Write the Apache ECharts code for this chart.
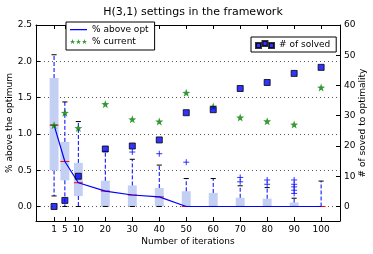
<!DOCTYPE html>
<html>
<head>
<meta charset="utf-8">
<script src="https://cdn.jsdelivr.net/npm/echarts@6/dist/echarts.min.js"></script>
<style>html,body{margin:0;padding:0;background:#fff}#c{width:373px;height:254px}</style>
</head>
<body>
<div id="c"></div>
<script>
// ---- data ----
var iterations = [1, 5, 10, 20, 30, 40, 50, 60, 70, 80, 90, 100];
var whiskerLow = [0.145, 0, 0, 0, 0, 0, 0, 0, 0, 0, 0, 0];
var q1 = [0.495, 0.36, 0.145, 0, 0, 0, 0, 0, 0, 0, 0, 0];
var median = [1.12, 0.62, 0.327, 0.212, 0.158, 0.132, 0, 0, 0, 0, 0, 0];
var q3 = [1.77, 0.89, 0.6, 0.355, 0.29, 0.255, 0.21, 0.187, 0.12, 0.108, 0.055, 0];
var whiskerHigh = [2.09, 1.44, 1.17, 0.76, 0.65, 0.57, 0.385, 0.385, 0.285, 0.26, 0.114, 0.35];
var outlierX = [30, 40, 50, 70, 70, 80, 80, 90, 90, 90, 90, 90];
var outlierY = [0.75, 0.727, 0.61, 0.40, 0.34, 0.365, 0.306, 0.365, 0.306, 0.27, 0.224, 0.18];
var aboveOpt = [1.12, 0.62, 0.327, 0.212, 0.158, 0.132, 0, 0, 0, 0, 0, 0];
var currentPct = [1.12, 1.29, 1.08, 1.41, 1.2, 1.17, 1.565, 1.376, 1.225, 1.174, 1.128, 1.638];
var solved = [0, 2, 10, 19, 20, 22, 31, 32, 39, 41, 44, 46];
var xTicks = [1, 5, 10, 20, 30, 40, 50, 60, 70, 80, 90, 100];
var leftTicks = [0, 0.5, 1.0, 1.5, 2.0, 2.5];
var rightTicks = [0, 10, 20, 30, 40, 50, 60];

var FONT = 'DejaVu Sans';
var STAR = 'M5,0L6.176,3.382L9.755,3.455L6.902,5.618L7.939,9.045L5,7L2.061,9.045L3.098,5.618L0.245,3.455L3.824,3.382Z';
function shiftStar(dx, dy) {
  return STAR.replace(/(-?\d+\.?\d*),(-?\d+\.?\d*)/g, function (m, a, b) {
    return (parseFloat(a) + dx).toFixed(3) + ',' + (parseFloat(b) + dy).toFixed(3);
  });
}
var threeStars = 'path://' + shiftStar(0, 0) + ' ' + shiftStar(11, 0) + ' ' + shiftStar(22, 0);
var threeSquares = 'path://M0,2h5v5h-5z M6.5,0h5v5h-5z M13,2h5v5h-5z';
var lineIcon = 'path://M0,0h17v0.01h-17z M0,3.4h17v1.3h-17z M0,7.99h17v0.01h-17z';

var boxData = iterations.map(function (x, i) {
  return [x, whiskerLow[i], q1[i], median[i], q3[i], whiskerHigh[i]];
});

var chart = echarts.init(document.getElementById('c'), null, {renderer: 'canvas'});
var option = {
  animation: false,
  backgroundColor: '#fff',
  title: {
    text: 'H(3,1) settings in the framework',
    left: 188, textAlign: 'center', top: 2,
    textStyle: {fontFamily: FONT, fontSize: 11, fontWeight: 'normal', color: '#000'}
  },
  legend: [{
    left: 66, top: 22, orient: 'vertical', z: 10,
    backgroundColor: '#fff',
    borderColor: '#000', borderWidth: 1, borderRadius: 0,
    padding: [3, 6, 4, 4], itemGap: 3, itemWidth: 17, itemHeight: 8,
    textStyle: {fontFamily: FONT, fontSize: 9, color: '#000'},
    data: [{name: '% above opt', icon: lineIcon}, {name: '% current', icon: threeStars}]
  }, {
    left: 251, top: 37, orient: 'vertical', z: 10,
    backgroundColor: '#fff',
    borderColor: '#000', borderWidth: 1, borderRadius: 0,
    padding: [3, 6, 3, 4], itemWidth: 18, itemHeight: 7,
    textStyle: {fontFamily: FONT, fontSize: 9, color: '#000'},
    data: [{name: '# of solved', icon: threeSquares}]
  }],
  grid: {left: 36, right: 33, top: 25, bottom: 33, containLabel: false, outerBoundsMode: 'none'},
  xAxis: [{
    type: 'value', min: -5.7, max: 107, position: 'bottom',
    name: 'Number of iterations', nameLocation: 'middle', nameGap: 16, nameMoveOverlap: false,
    nameTextStyle: {fontFamily: FONT, fontSize: 9, color: '#000'},
    axisLine: {show: true, onZero: false, lineStyle: {color: '#000', width: 1}},
    axisTick: {show: true, inside: true, length: 4, customValues: xTicks, lineStyle: {color: '#000'}},
    axisLabel: {show: true, customValues: xTicks, margin: 4, fontFamily: FONT, fontSize: 9, color: '#000'},
    splitLine: {show: false}
  }, {
    type: 'value', min: -5.7, max: 107, position: 'top',
    axisLine: {show: true, onZero: false, lineStyle: {color: '#000', width: 1}},
    axisTick: {show: true, inside: true, length: 4, customValues: xTicks, lineStyle: {color: '#000'}},
    axisLabel: {show: false},
    splitLine: {show: false}
  }],
  yAxis: [{
    type: 'value', min: -0.2, max: 2.5, position: 'left',
    name: '% above the optimum', nameLocation: 'middle', nameGap: 22, nameMoveOverlap: false,
    nameTextStyle: {fontFamily: FONT, fontSize: 9, color: '#000'},
    axisLine: {show: true, onZero: false, lineStyle: {color: '#000', width: 1}},
    axisTick: {show: true, inside: true, length: 4, customValues: leftTicks, lineStyle: {color: '#000'}},
    axisLabel: {show: true, customValues: leftTicks, margin: 4, fontFamily: FONT, fontSize: 9, color: '#000',
      formatter: function (v) { return v.toFixed(1); }},
    splitLine: {show: true, lineStyle: {color: '#555', type: [1, 3], width: 1}}
  }, {
    type: 'value', min: -4.8, max: 60, position: 'right',
    name: '# of soved to optimality', nameLocation: 'middle', nameGap: 18, nameMoveOverlap: false,
    nameRotate: 90,
    nameTextStyle: {fontFamily: FONT, fontSize: 9, color: '#000'},
    axisLine: {show: true, onZero: false, lineStyle: {color: '#000', width: 1}},
    axisTick: {show: true, inside: true, length: 4, customValues: rightTicks, lineStyle: {color: '#000'}},
    axisLabel: {show: true, customValues: rightTicks, margin: 4, fontFamily: FONT, fontSize: 9, color: '#000'},
    splitLine: {show: false}
  }],
  series: [{
    type: 'custom', name: 'box', xAxisIndex: 0, yAxisIndex: 0, z: 2,
    encode: {x: 0, y: [1, 2, 3, 4, 5]},
    data: boxData,
    renderItem: function (params, api) {
      var x = api.value(0);
      var pLo = api.coord([x, api.value(1)]);
      var pQ1 = api.coord([x, api.value(2)]);
      var pMed = api.coord([x, api.value(3)]);
      var pQ3 = api.coord([x, api.value(4)]);
      var pHi = api.coord([x, api.value(5)]);
      var bw = api.size([3.3, 0])[0];
      var cw = api.size([1.9, 0])[0];
      var cx = pMed[0];
      var ch = [];
      if (pQ1[1] - pQ3[1] > 0.5) {
        ch.push({type: 'rect', shape: {x: cx - bw / 2, y: pQ3[1], width: bw, height: pQ1[1] - pQ3[1]},
          style: {fill: '#c3cff3', stroke: null}});
      }
      ch.push({type: 'line', shape: {x1: cx, y1: pQ3[1], x2: cx, y2: pHi[1]},
        style: {stroke: '#0000ff', lineWidth: 1, lineDash: [4, 2]}});
      ch.push({type: 'line', shape: {x1: cx, y1: pQ1[1], x2: cx, y2: pLo[1]},
        style: {stroke: '#0000ff', lineWidth: 1, lineDash: [4, 2]}});
      ch.push({type: 'line', shape: {x1: cx - cw / 2, y1: pHi[1], x2: cx + cw / 2, y2: pHi[1]},
        style: {stroke: '#000', lineWidth: 1}});
      ch.push({type: 'line', shape: {x1: cx - cw / 2, y1: pLo[1], x2: cx + cw / 2, y2: pLo[1]},
        style: {stroke: '#000', lineWidth: 1}});
      ch.push({type: 'line', shape: {x1: cx - bw / 2, y1: pMed[1], x2: cx + bw / 2, y2: pMed[1]},
        style: {stroke: '#ff0000', lineWidth: 1}});
      return {type: 'group', children: ch};
    }
  }, {
    type: 'scatter', name: 'outliers', xAxisIndex: 0, yAxisIndex: 0, z: 3,
    symbol: 'path://M0,3L6,3M3,0L3,6', symbolSize: 6,
    itemStyle: {color: 'rgba(0,0,0,0)', borderColor: '#0000ff', borderWidth: 1},
    data: outlierX.map(function (x, i) { return [x, outlierY[i]]; })
  }, {
    type: 'line', name: '% above opt', xAxisIndex: 0, yAxisIndex: 0, z: 4,
    symbol: 'none', showSymbol: false,
    lineStyle: {color: '#0000ff', width: 1.2},
    itemStyle: {color: '#0000ff'},
    data: iterations.map(function (x, i) { return [x, aboveOpt[i]]; })
  }, {
    type: 'scatter', name: '% current', xAxisIndex: 0, yAxisIndex: 0, z: 5,
    symbol: 'path://' + STAR, symbolSize: 8,
    itemStyle: {color: '#008000'},
    data: iterations.map(function (x, i) { return [x, currentPct[i]]; })
  }, {
    type: 'scatter', name: '# of solved', xAxisIndex: 0, yAxisIndex: 1, z: 6,
    symbol: 'rect', symbolSize: 6,
    itemStyle: {color: '#0000ff', borderColor: '#000', borderWidth: 1},
    data: iterations.map(function (x, i) { return [x, solved[i]]; })
  }]
};
chart.setOption(option);
</script>
</body>
</html>
